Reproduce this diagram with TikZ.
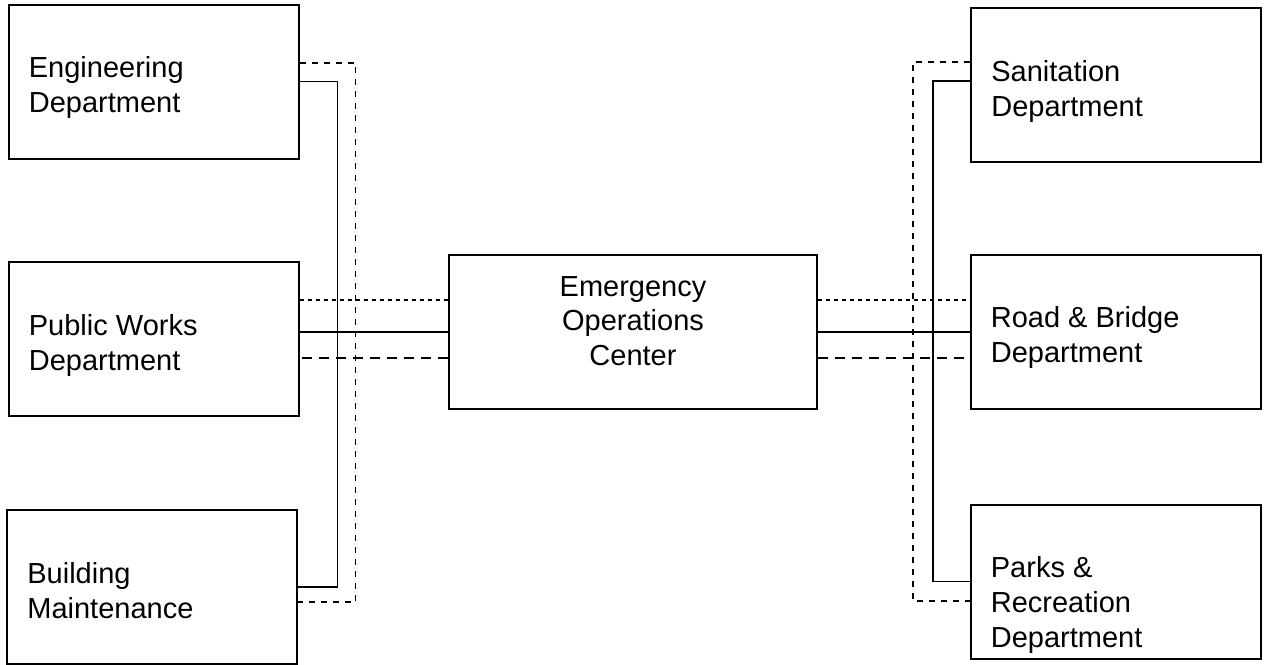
\documentclass[tikz,border=0pt]{standalone}
\usepackage{fontspec}
\setmainfont{Liberation Sans}
\begin{document}
\begin{tikzpicture}[x=0.5pt, y=-0.5pt,
    dept/.style={draw, line width=1pt, minimum width=145pt, minimum height=77pt, inner sep=0pt},
    txt/.style={font=\fontsize{14.5}{17.3}\selectfont, align=left, inner sep=0pt, anchor=north west},
    netsolid/.style={line width=0.8pt},
    netdot/.style={line width=0.75pt, dash pattern=on 2pt off 2pt},
    netbus/.style={line width=0.75pt, dash pattern=on 3pt off 3pt},
    netlong/.style={line width=0.75pt, dash pattern=on 5pt off 3.5pt}]
    \useasboundingbox (0,0) rectangle (1266,665);
    % departments on the left
    \node [dept] (eng) at (153.5,81.5) {};
    \node [dept] (pw) at (153.5,339) {};
    \node [dept] (bm) at (152,587) {};
    % departments on the right
    \node [dept] (san) at (1116,85) {};
    \node [dept] (rb) at (1115.5,331.5) {};
    \node [dept] (pk) at (1115.5,581.5) {};
    % operations center
    \node [dept, minimum width=184pt] (eoc) at (633,332) {};
    % texts
    \node [txt] (engt) at ([xshift=10.5pt,yshift=-26.5pt]eng.north west) {Engineering\\Department};
    \node [txt] (pwt) at ([xshift=10.5pt,yshift=-26.5pt]pw.north west) {Public Works\\Department};
    \node [txt] (bmt) at ([xshift=10.5pt,yshift=-26.5pt]bm.north west) {Building\\Maintenance};
    \node [txt] (sant) at ([xshift=10.5pt,yshift=-26.5pt]san.north west) {Sanitation\\Department};
    \node [txt] (rbt) at ([xshift=10.5pt,yshift=-26.5pt]rb.north west) {Road \& Bridge\\Department};
    \node [txt] (pkt) at ([xshift=10.5pt,yshift=-26.5pt]pk.north west) {Parks \&\\Recreation\\Department};
    \node [txt, align=center, anchor=north] (eoct) at ([yshift=-11pt]eoc.north) {Emergency\\Operations\\Center};
    % left buses
    \draw [netsolid] (eng.east) -- ++(38,0) |- ([yshift=0pt]bm.east);
    \draw [netbus] ([yshift=9.25pt]eng.east) -- ++(56,0) |- ([yshift=-7.5pt]bm.east);
    % right buses
    \draw [netsolid] ([yshift=2pt]san.west) -- ++(-37,0) |- (pk.west);
    \draw [netbus] ([yshift=11.5pt]san.west) -- ++(-57,0) |- ([yshift=-9.75pt]pk.west);
    % links to the operations center
    \draw [netdot] ([yshift=16pt]eoc.west) -- ([yshift=16pt]eoc.west -| pw.east);
    \draw [netsolid] (eoc.west) -- (eoc.west -| pw.east);
    \draw [netlong] ([yshift=-13pt]eoc.west) -- ([yshift=-13pt]eoc.west -| pw.east);
    \draw [netdot] ([yshift=16pt]eoc.east) -- ([yshift=16pt]eoc.east -| rb.west);
    \draw [netsolid] (eoc.east) -- (eoc.east -| rb.west);
    \draw [netlong] ([yshift=-13pt]eoc.east) -- ([yshift=-13pt]eoc.east -| rb.west);
\end{tikzpicture}
\end{document}
